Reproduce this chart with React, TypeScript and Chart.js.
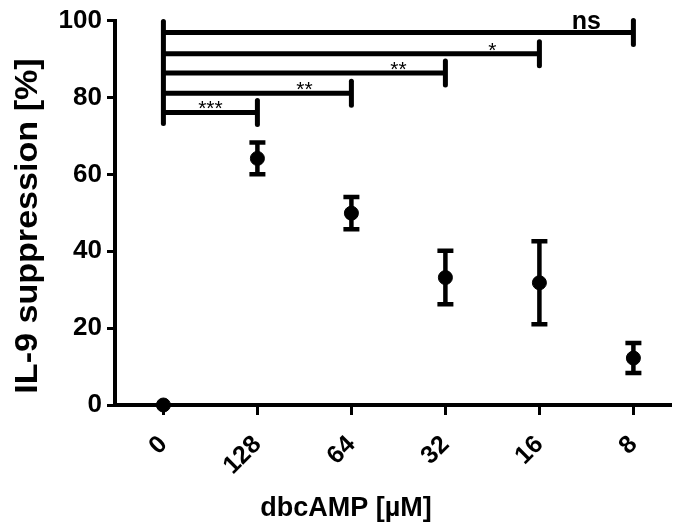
import React, { useEffect, useRef } from "react";
import { Chart, registerables } from "chart.js";

Chart.register(...registerables);

// ---- data ----
const doses = ["0", "128", "64", "32", "16", "8"];
const means = [0, 64.15, 49.9, 33.15, 31.8, 12.2];
const sems = [0, 4.15, 4.2, 6.95, 10.8, 3.9];
const yTicks = [0, 20, 40, 60, 80, 100];

const bracketEnd = [1, 2, 3, 4, 5];
const bracketLevel = [76.1, 81.1, 86.4, 91.4, 96.9];
const bracketLabel = ["***", "**", "**", "*", "ns"];

const yTitle = "IL-9 suppression [%]";
const xTitle = "dbcAMP [µM]";

const FONT = "'Liberation Sans', Arial, Helvetica, sans-serif";

const errorBarPlugin = {
  id: "errorBars",
  afterDatasetsDraw(chart: any) {
    const { ctx, scales } = chart;
    const xs = scales.x;
    const ys = scales.y;
    ctx.save();
    ctx.strokeStyle = "#000";
    ctx.lineWidth = 4.5;
    ctx.lineCap = "butt";
    means.forEach((m, i) => {
      const s = sems[i];
      if (!s) return;
      const px = xs.getPixelForValue(i);
      const top = ys.getPixelForValue(m + s);
      const bot = ys.getPixelForValue(m - s);
      ctx.beginPath();
      ctx.moveTo(px, top);
      ctx.lineTo(px, bot);
      ctx.moveTo(px - 8, top);
      ctx.lineTo(px + 8, top);
      ctx.moveTo(px - 8, bot);
      ctx.lineTo(px + 8, bot);
      ctx.stroke();
    });
    ctx.restore();
  },
};

const bracketPlugin = {
  id: "brackets",
  afterDraw(chart: any) {
    const { ctx, scales } = chart;
    const xs = scales.x;
    const ys = scales.y;
    const x0 = xs.getPixelForValue(0);
    const capH = 12;
    ctx.save();
    ctx.strokeStyle = "#000";
    ctx.fillStyle = "#000";
    ctx.lineWidth = 5;
    const topY = ys.getPixelForValue(Math.max(...bracketLevel));
    const botY = ys.getPixelForValue(Math.min(...bracketLevel));
    ctx.lineCap = "round";
    ctx.beginPath();
    ctx.moveTo(x0, topY - capH + 1);
    ctx.lineTo(x0, botY + capH - 1);
    ctx.stroke();
    bracketEnd.forEach((e, i) => {
      const py = ys.getPixelForValue(bracketLevel[i]);
      const px = xs.getPixelForValue(e);
      ctx.lineCap = "butt";
      ctx.beginPath();
      ctx.moveTo(x0, py);
      ctx.lineTo(px, py);
      ctx.stroke();
      ctx.lineCap = "round";
      ctx.beginPath();
      ctx.moveTo(px, py - capH);
      ctx.lineTo(px, py + capH);
      ctx.stroke();
      const lbl = bracketLabel[i];
      const lx = xs.getPixelForValue(e - 0.5);
      ctx.textAlign = "center";
      ctx.textBaseline = "alphabetic";
      if (lbl === "ns") {
        ctx.font = `bold 25px ${FONT}`;
        ctx.fillText(lbl, lx, py - 4);
      } else {
        ctx.font = `21px ${FONT}`;
        ctx.fillText(lbl, lx, py + 3);
      }
    });
    ctx.restore();
  },
};

const titlePlugin = {
  id: "axisTitles",
  afterDraw(chart: any) {
    const { ctx } = chart;
    ctx.save();
    ctx.fillStyle = "#000";
    ctx.textAlign = "center";
    ctx.textBaseline = "alphabetic";
    ctx.font = `bold 27px ${FONT}`;
    ctx.fillText(xTitle, 346, 516);
    ctx.translate(37, 226);
    ctx.rotate(-Math.PI / 2);
    ctx.scale(1.1, 1);
    ctx.font = `bold 31px ${FONT}`;
    ctx.fillText(yTitle, 0, 0);
    ctx.restore();
  },
};

export default function App() {
  const ref = useRef<HTMLCanvasElement | null>(null);
  useEffect(() => {
    document.body.style.margin = "0";
    const canvas = ref.current!;
    const chart = new Chart(canvas, {
      type: "scatter",
      data: {
        datasets: [
          {
            data: means.map((m, i) => ({ x: i, y: m })),
            backgroundColor: "#000",
            borderColor: "#000",
            pointRadius: 7,
            pointHoverRadius: 7,
            clip: false as any,
          },
        ],
      },
      options: {
        animation: false,
        responsive: false,
        devicePixelRatio: 1,
        layout: { padding: { top: 19, right: 0, left: 0, bottom: 0 } },
        plugins: { legend: { display: false }, tooltip: { enabled: false } },
        scales: {
          x: {
            type: "linear",
            min: -0.515,
            max: 5.4,
            afterBuildTicks: (scale: any) => {
              scale.ticks = doses.map((_, i) => ({ value: i }));
            },
            afterFit: (scale: any) => {
              scale.height = 117;
            },
            border: { display: true, color: "#000", width: 4 },
            grid: {
              display: true,
              drawOnChartArea: false,
              drawTicks: true,
              tickLength: 10,
              tickWidth: 3,
              tickColor: "#000",
              color: "#000",
            },
            ticks: {
              color: "#000",
              font: { family: FONT, size: 25, weight: "bold" },
              minRotation: 45,
              maxRotation: 45,
              padding: 15,
              callback: (v: any) => doses[Math.round(Number(v))] ?? "",
            },
          },
          y: {
            type: "linear",
            min: 0,
            max: 100,
            afterBuildTicks: (scale: any) => {
              scale.ticks = yTicks.map((v) => ({ value: v }));
            },
            afterFit: (scale: any) => {
              scale.width = 115;
            },
            border: { display: true, color: "#000", width: 4 },
            grid: {
              display: true,
              drawOnChartArea: false,
              drawTicks: true,
              tickLength: 8,
              tickWidth: 3,
              tickColor: "#000",
              color: "#000",
            },
            ticks: {
              color: "#000",
              font: { family: FONT, size: 26, weight: "bold" },
              padding: 5,
            },
          },
        },
      },
      plugins: [errorBarPlugin, bracketPlugin, titlePlugin],
    });
    return () => chart.destroy();
  }, []);
  return <canvas ref={ref} width={679} height={522} style={{ display: "block" }} />;
}
